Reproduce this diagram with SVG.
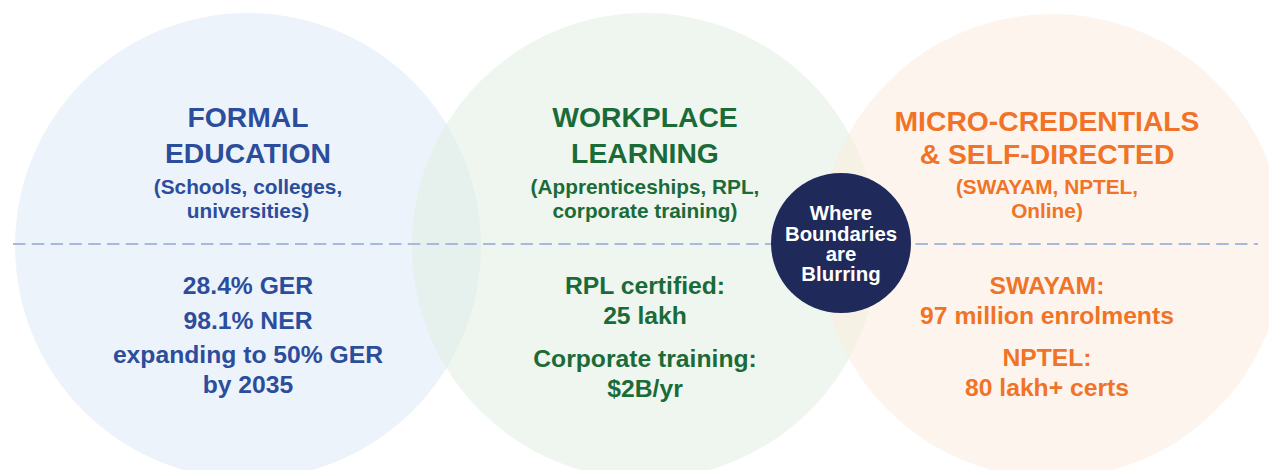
<svg xmlns="http://www.w3.org/2000/svg" width="1269" height="470" viewBox="0 0 1269 470">
<style>
text{font-family:"Liberation Sans",Arial,Helvetica,sans-serif;font-weight:bold;text-anchor:middle}
.t{font-size:28.3px}
.s{font-size:20.8px}
.d{font-size:24.7px}
.blue{fill:#2c4d9c}
.green{fill:#1b6b39}
.orange{fill:#f07327}
.w{fill:#ffffff;font-size:20.4px}
</style>
<rect width="1269" height="470" fill="#ffffff"/>
<g id="circle-formal"><circle cx="248" cy="246" r="233" fill="rgb(219,231,245)" fill-opacity="0.5"/></g>
<g id="circle-workplace"><circle cx="645" cy="246" r="233" fill="rgb(223,237,223)" fill-opacity="0.5"/></g>
<g id="circle-micro"><circle cx="1052" cy="246" r="232" fill="rgb(251,235,220)" fill-opacity="0.5"/></g>
<g id="connectors"><line x1="13" y1="244" x2="1258" y2="244" stroke="#a8b9de" stroke-width="2" stroke-dasharray="12.5 6.3"/></g>
<g id="formal-text" class="blue">
<text class="t" x="248" y="127">FORMAL</text>
<text class="t" x="248" y="163">EDUCATION</text>
<text class="s" x="248" y="194">(Schools, colleges,</text>
<text class="s" x="248" y="218">universities)</text>
<text class="d" x="248" y="294">28.4% GER</text>
<text class="d" x="248" y="329">98.1% NER</text>
<text class="d" x="248" y="363">expanding to 50% GER</text>
<text class="d" x="248" y="393">by 2035</text>
</g>
<g id="workplace-text" class="green">
<text class="t" x="645" y="127">WORKPLACE</text>
<text class="t" x="645" y="163">LEARNING</text>
<text class="s" x="645" y="194">(Apprenticeships, RPL,</text>
<text class="s" x="645" y="218">corporate training)</text>
<text class="d" x="645" y="294">RPL certified:</text>
<text class="d" x="645" y="324">25 lakh</text>
<text class="d" x="645" y="367">Corporate training:</text>
<text class="d" x="645" y="397">$2B/yr</text>
</g>
<g id="micro-text" class="orange">
<text class="t" x="1047" y="131">MICRO-CREDENTIALS</text>
<text class="t" x="1047" y="164">&amp; SELF-DIRECTED</text>
<text class="s" x="1047" y="194">(SWAYAM, NPTEL,</text>
<text class="s" x="1047" y="218">Online)</text>
<text class="d" x="1047" y="294">SWAYAM:</text>
<text class="d" x="1047" y="324">97 million enrolments</text>
<text class="d" x="1047" y="366">NPTEL:</text>
<text class="d" x="1047" y="396">80 lakh+ certs</text>
</g>
<g id="blurring">
<circle cx="841" cy="243" r="70" fill="#1f2a5b"/>
<text class="w" x="841" y="220">Where</text>
<text class="w" x="841" y="240.5">Boundaries</text>
<text class="w" x="841" y="261">are</text>
<text class="w" x="841" y="281">Blurring</text>
</g>
</svg>
